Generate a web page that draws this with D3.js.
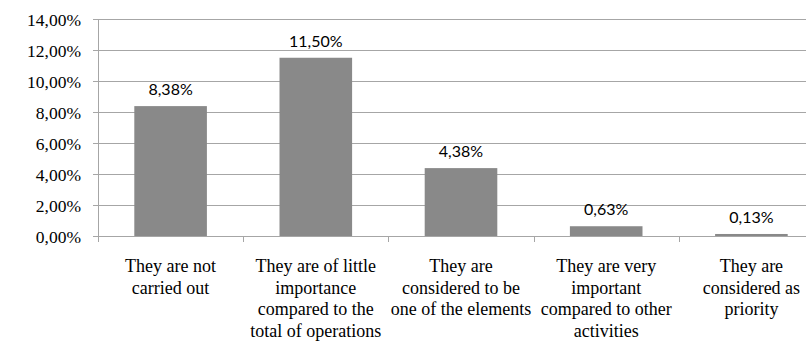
<!DOCTYPE html>
<html>
<head>
<meta charset="utf-8">
<script src="https://cdn.jsdelivr.net/npm/d3@7"></script>
<style>
  html, body { margin: 0; padding: 0; background: #fff; }
  svg { display: block; }
  .serif { font-family: "Liberation Serif", "Times New Roman", Times, "DejaVu Serif", serif; }
  .sans { font-family: Lato, "Open Sans", sans-serif; }
</style>
</head>
<body>
<svg id="chart" width="806" height="341"></svg>
<script>
// Share of responses per category (percent)
const categories = [
  ["They are not", "carried out"],
  ["They are of little", "importance", "compared to the", "total of operations"],
  ["They are", "considered to be", "one of the elements"],
  ["They are very", "important", "compared to other", "activities"],
  ["They are", "considered as", "priority"]
];
const values = [8.38, 11.50, 4.38, 0.63, 0.13];
const valueLabels = ["8,38%", "11,50%", "4,38%", "0,63%", "0,13%"];
const yTicks = [0, 2, 4, 6, 8, 10, 12, 14];
const yTickLabels = ["0,00%", "2,00%", "4,00%", "6,00%", "8,00%", "10,00%", "12,00%", "14,00%"];

const svg = d3.select("#chart");
const plotLeft = 98, plotRight = 824, plotTop = 19, plotBottom = 236;
const gridColor = "#a6a6a6";
const barColor = "#898989";

const x = d3.scaleBand()
  .domain(d3.range(values.length))
  .range([plotLeft, plotRight])
  .paddingInner(0.5)
  .paddingOuter(0.25);

const y = d3.scaleLinear().domain([0, 14]).range([plotBottom, plotTop]);

// horizontal gridlines
svg.append("g").selectAll("line")
  .data(yTicks)
  .join("line")
  .attr("x1", plotLeft - 5).attr("x2", plotRight)
  .attr("y1", d => Math.round(y(d)) + 0.5)
  .attr("y2", d => Math.round(y(d)) + 0.5)
  .attr("stroke", gridColor).attr("stroke-width", 1);

// y axis line
svg.append("line")
  .attr("x1", plotLeft + 0.5).attr("x2", plotLeft + 0.5)
  .attr("y1", plotTop).attr("y2", plotBottom + 0.5)
  .attr("stroke", gridColor);

// y tick labels
svg.append("g").selectAll("text")
  .data(yTicks)
  .join("text")
  .attr("class", "serif")
  .attr("x", 81)
  .attr("y", d => y(d) + 7)
  .attr("text-anchor", "end")
  .attr("font-size", "17.5px")
  .attr("fill", "#000")
  .text((d, i) => yTickLabels[i]);

// x category boundary ticks
const step = x.step();
svg.append("g").selectAll("line")
  .data(d3.range(values.length + 1))
  .join("line")
  .attr("x1", i => Math.round(plotLeft + i * step) + 0.5)
  .attr("x2", i => Math.round(plotLeft + i * step) + 0.5)
  .attr("y1", plotBottom).attr("y2", plotBottom + 6)
  .attr("stroke", gridColor);

// bars
svg.append("g").selectAll("rect")
  .data(values)
  .join("rect")
  .attr("x", (d, i) => x(i))
  .attr("width", x.bandwidth())
  .attr("y", d => y(d))
  .attr("height", d => plotBottom - y(d))
  .attr("fill", barColor);

// value labels
svg.append("g").selectAll("text")
  .data(values)
  .join("text")
  .attr("class", "sans")
  .attr("x", (d, i) => x(i) + x.bandwidth() / 2)
  .attr("y", d => y(d) - 11)
  .attr("text-anchor", "middle")
  .attr("font-size", "16px")
  .attr("fill", "#000")
  .text((d, i) => valueLabels[i]);

// category labels
const catG = svg.append("g").selectAll("text")
  .data(categories)
  .join("text")
  .attr("class", "serif")
  .attr("text-anchor", "middle")
  .attr("font-size", "18px")
  .attr("fill", "#000");

catG.each(function(lines, i) {
  const cx = x(i) + x.bandwidth() / 2;
  d3.select(this).selectAll("tspan")
    .data(lines)
    .join("tspan")
    .attr("x", cx)
    .attr("y", (d, j) => 272 + j * 21.5)
    .text(d => d);
});
</script>
</body>
</html>
